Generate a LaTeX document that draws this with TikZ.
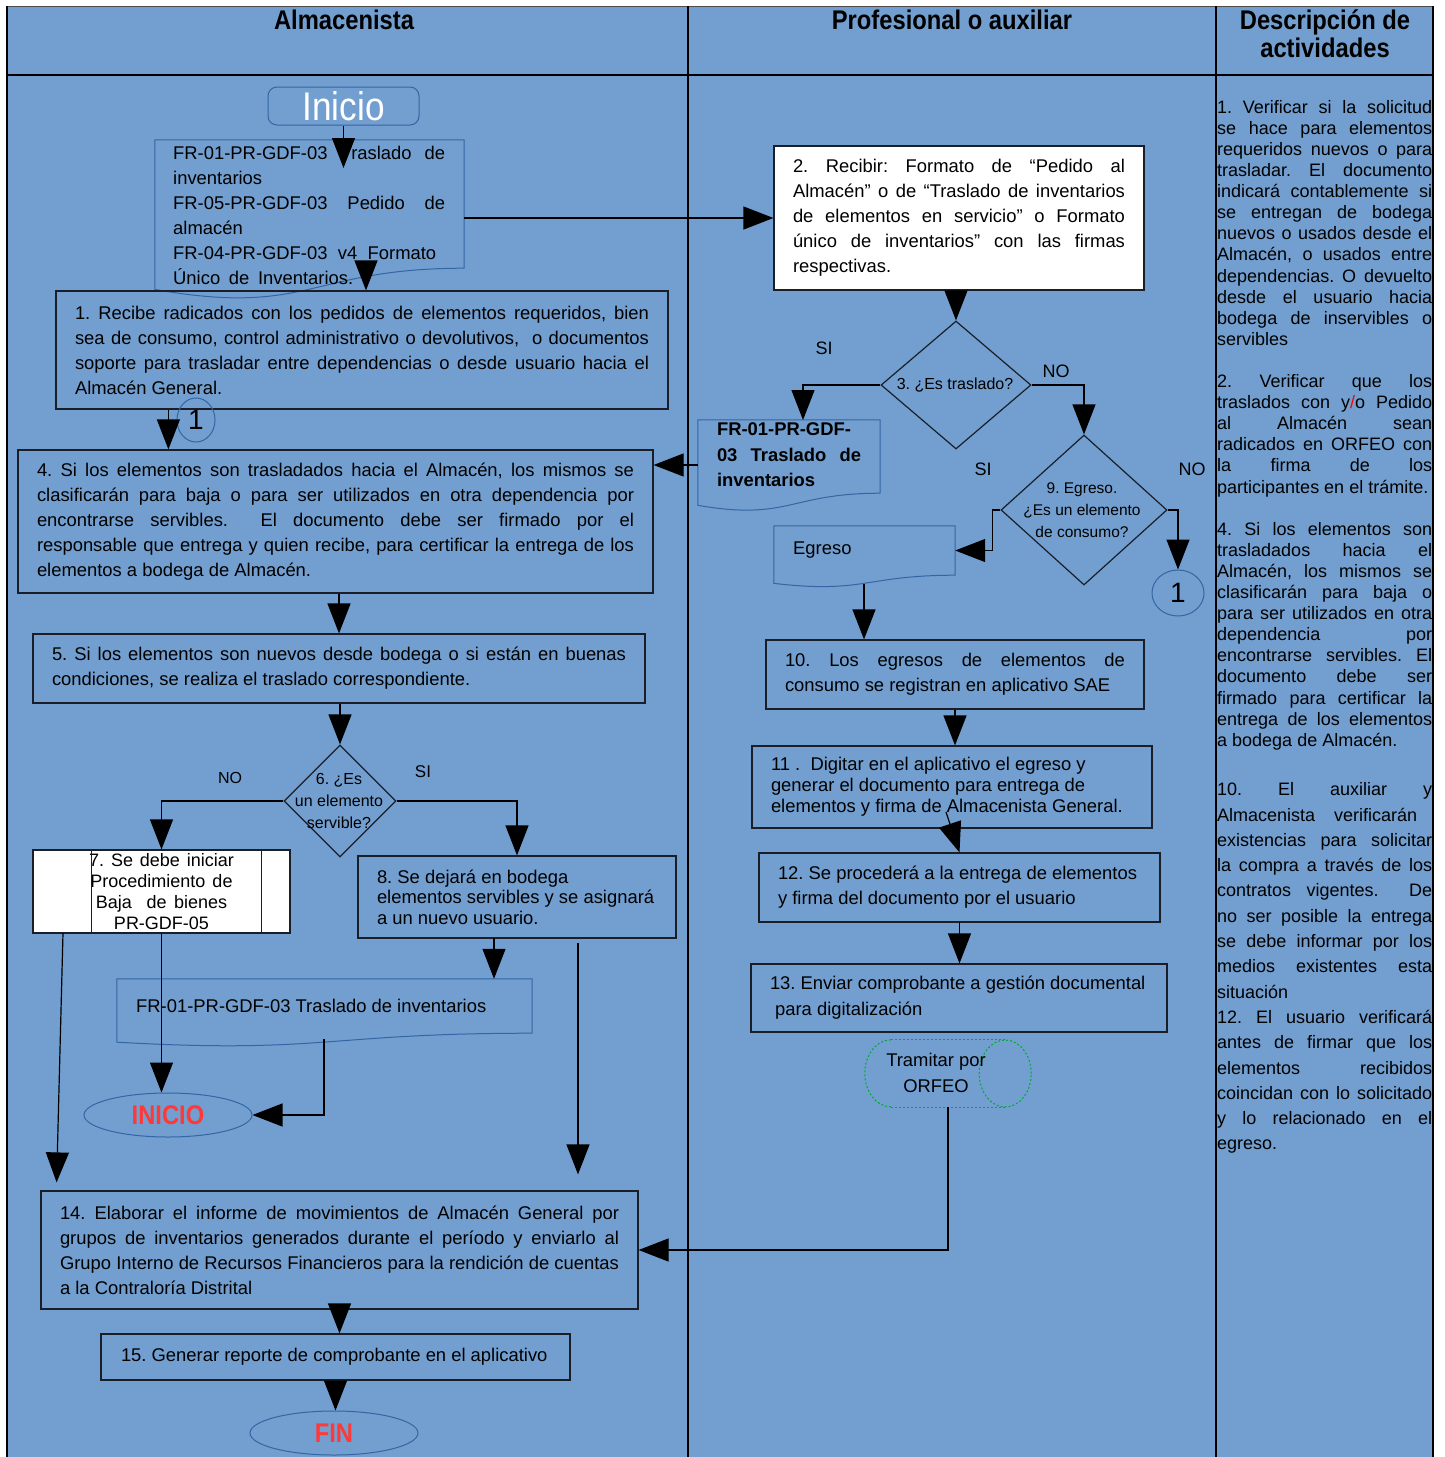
\documentclass[tikz,border=0pt]{standalone}
\usepackage{fontspec}
\setmainfont{Liberation Sans}
\newfontfamily\condf[FakeStretch=0.88]{Liberation Sans}
\usetikzlibrary{arrows.meta,shapes.geometric,calc}
\definecolor{bgc}{RGB}{114,159,207}
\definecolor{docc}{RGB}{52,101,164}
\definecolor{boxc}{RGB}{25,30,40}
\definecolor{grn}{RGB}{0,169,51}
\definecolor{redc}{RGB}{255,56,56}
\newcommand\fs[2]{\fontsize{#1}{#2}\selectfont}
\newcommand\nsp{\spaceskip=0pt\xspaceskip=0pt\hyphenpenalty=10000\exhyphenpenalty=10000\relax}
\newcommand\J[2]{\makebox[#1pt][s]{\nsp #2}}
\newcommand\docpath[1]{\draw[docl] (#1.north west) -- (#1.north east) -- (#1.south east) .. controls (#1.south) and ($(#1.north)!1.380!(#1.south)$) .. ($(#1.north west)!1.165!(#1.south west)$) -- cycle;}
\tikzset{
 tabl/.style={draw=black, line width=1.2pt},
 box/.style={draw=boxc, line width=1.2pt, rectangle, inner sep=0pt, align=left, font=\fs{18.4}{25}, execute at begin node={\nsp}},
 docn/.style={rectangle, inner sep=0pt},
 docl/.style={draw=docc, line width=1pt},
 txt/.style={inner sep=0pt, font=\fs{18.4}{25}, execute at begin node={\nsp}},
 hdr/.style={inner sep=0pt, font=\condf\bfseries\fs{27}{28}},
 dia/.style={diamond, draw=boxc, line width=1.2pt, inner sep=0pt},
 ell/.style={ellipse, draw=docc, line width=1pt, inner sep=0pt},
 lbl/.style={inner sep=0pt, font=\fs{18}{18}},
 arr/.style={draw=black, line width=1.2pt, -{Triangle[length=30pt,width=23pt]}},
 grnd/.style={draw=grn, line width=1pt, dash pattern=on 2pt off 2pt},
}
\begin{document}
\frenchspacing
\begin{tikzpicture}[x=1pt,y=-1pt]
\useasboundingbox (0,0) rectangle (1444,1457);
\fill[white] (0,0) rectangle (1444,1457);
\fill[bgc] (6,6) rectangle (1434,1457);
\draw[tabl, draw=black!70, line width=1pt] (6,6) -- (1434,6);
\draw[tabl] (6,75) -- (1434,75);
\draw[tabl] (7,6) -- (7,1457);
\draw[tabl] (688,6) -- (688,1457);
\draw[tabl] (1216,6) -- (1216,1457);
\draw[tabl] (1433,6) -- (1433,1457);

% headers
\node[hdr] (hA) at (344,20) {Almacenista};
\node[hdr] (hB) at (952,20) {Profesional o auxiliar};
\node[hdr, align=center] (hC) at (1325,34) {Descripción de\\actividades};

% ---------- lane 1 ----------
\node[draw=docc, line width=1pt, rounded corners=9pt, minimum width=151pt, minimum height=38pt, inner sep=0pt, text=white, font=\condf\fs{40}{40}] (ini) at (343.5,106) {Inicio};

\node[docn, minimum width=309pt, minimum height=128pt] (dA) at (309.5,204) {};
\docpath{dA}
\node[txt, anchor=north west, text width=272pt, align=left] (dAt) at (173,146) {\J{272}{FR-01-PR-GDF-03\ \ Traslado\ \ de}\\inventarios\\\J{272}{FR-05-PR-GDF-03 Pedido de}\\almacén\\\J{263}{FR-04-PR-GDF-03 v4 Formato}\\\J{180}{Único de Inventarios.}};

\node[box, minimum width=612pt, minimum height=118pt, text width=574pt] (b1) at (362,350) {\J{574}{1. Recibe radicados con los pedidos de elementos requeridos, bien}\\\J{574}{sea de consumo, control administrativo o devolutivos,\ \ o documentos}\\\J{574}{soporte para trasladar entre dependencias o desde usuario hacia el}\\Almacén General.};

\node[ell, minimum width=38pt, minimum height=44pt, font=\fs{28}{28}] (c1L) at (196,420) {1};

\node[box, minimum width=635pt, minimum height=143pt, text width=597pt] (b4) at (335.5,521.5) {\J{597}{4. Si los elementos son trasladados hacia el Almacén, los mismos se}\\\J{597}{clasificarán para baja o para ser utilizados en otra dependencia por}\\\J{597}{encontrarse servibles.\ \ El documento debe ser firmado por el}\\\J{597}{responsable que entrega y quien recibe, para certificar la entrega de los}\\elementos a bodega de Almacén.};

\node[box, minimum width=612pt, minimum height=69pt, text width=574pt] (b5) at (339,668.5) {\J{574}{5. Si los elementos son nuevos desde bodega o si están en buenas}\\condiciones, se realiza el traslado correspondiente.};

\node[dia, minimum width=112pt, minimum height=112pt] (d6) at (340,801) {};
\node[txt, align=center, font=\fs{16}{22}] (d6t) at (339,801) {6. ¿Es\\un elemento\\servible?};
\node[lbl, font=\fs{16}{16}] (noA) at (230,778) {NO};
\node[lbl, font=\fs{17}{17}] (siA) at (423,772) {SI};

\node[box, fill=white, minimum width=257pt, minimum height=83pt, text width=200pt, align=center, font=\fs{18}{21}] (b7) at (161.5,891.5) {7. Se debe iniciar\\Procedimiento de\\Baja\ \ de bienes\\PR-GDF-05};
\draw[boxc, line width=1.2pt] ($(b7.north west)+(59,0)$) -- ($(b7.south west)+(59,0)$);
\draw[boxc, line width=1.2pt] ($(b7.north east)+(-29,0)$) -- ($(b7.south east)+(-29,0)$);

\node[box, minimum width=318pt, minimum height=82pt, text width=280pt, font=\fs{18.4}{20.5}] (b8) at (517,897) {8. Se dejará en bodega\\elementos servibles y se asignará\\a un nuevo usuario.};

\node[docn, minimum width=415pt, minimum height=54pt] (dD) at (324.5,1006) {};
\docpath{dD}
\node[txt, anchor=west] (dDt) at (136,1006) {FR-01-PR-GDF-03 Traslado de inventarios};

\node[ell, minimum width=168pt, minimum height=44pt, text=redc, font=\condf\bfseries\fs{27}{27}] (inicio) at (168,1115) {INICIO};

\node[box, minimum width=597pt, minimum height=118pt, text width=559pt] (b14) at (339.5,1250) {\J{559}{14. Elaborar el informe de movimientos de Almacén General por}\\\J{559}{grupos de inventarios generados durante el período y enviarlo al}\\\J{559}{Grupo Interno de Recursos Financieros para la rendición de cuentas}\\a la Contraloría Distrital};

\node[box, minimum width=469pt, minimum height=46pt, text width=429pt] (b15) at (335.5,1357) {15. Generar reporte de comprobante en el aplicativo};

\node[ell, minimum width=168pt, minimum height=44pt, text=redc, font=\condf\bfseries\fs{27}{27}] (fin) at (334,1433) {FIN};

% ---------- lane 2 ----------
\node[box, fill=white, minimum width=370pt, minimum height=144pt, text width=332pt] (b2) at (959,218) {\J{332}{2. Recibir: Formato de “Pedido al}\\\J{332}{Almacén” o de “Traslado de inventarios}\\\J{332}{de elementos en servicio” o Formato}\\\J{332}{único de inventarios” con las firmas}\\respectivas.};

\node[dia, minimum width=150pt, minimum height=128pt] (d3) at (956,385) {};
\node[txt, font=\fs{16}{22}] (d3t) at (955,385) {3. ¿Es traslado?};
\node[lbl] (siB) at (824,348) {SI};
\node[lbl] (noB) at (1056,371) {NO};

\node[docn, minimum width=182pt, minimum height=73pt] (dB) at (789,456.5) {};
\docpath{dB}
\node[txt, text width=144pt, align=left, font=\bfseries\fs{18.4}{25.5}] (dBt) at (789,455) {FR-01-PR-GDF-\\\J{144}{03 Traslado de}\\inventarios};

\node[dia, minimum width=166pt, minimum height=150pt] (d9) at (1084,510) {};
\node[txt, align=center, font=\fs{15.5}{22}] (d9t) at (1082,510) {9. Egreso.\\¿Es un elemento\\de consumo?};
\node[lbl] (siC) at (983,469) {SI};
\node[lbl] (noC) at (1192,469) {NO};

\node[docn, minimum width=181pt, minimum height=49pt] (dC) at (864.5,550.5) {};
\docpath{dC}
\node[txt, anchor=west] (dCt) at (793,550) {Egreso};

\node[ell, minimum width=52pt, minimum height=46pt, font=\fs{28}{28}] (c1R) at (1178,593) {1};

\node[box, minimum width=378pt, minimum height=69pt, text width=340pt] (b10) at (955,674.5) {\J{340}{10. Los egresos de elementos de}\\consumo se registran en aplicativo SAE};

\node[box, minimum width=400pt, minimum height=82pt, text width=362pt, font=\fs{18.4}{21}] (b11) at (952,787) {11 .\ \ Digitar en el aplicativo el egreso y\\generar el documento para entrega de\\elementos y firma de Almacenista General.};

\node[box, minimum width=401pt, minimum height=69pt, text width=363pt] (b12) at (959.5,887.5) {12. Se procederá a la entrega de elementos\\y firma del documento por el usuario};

\node[box, minimum width=416pt, minimum height=68pt, text width=378pt, font=\fs{18.4}{26}] (b13) at (959,998) {13. Enviar comprobante a gestión documental\\\ para digitalización};

\node[docn, minimum width=166pt, minimum height=67pt] (or) at (948,1073.5) {};
\draw[grnd] ($(or.north west)+(26,0)$) -- ($(or.north east)+(-26,0)$);
\draw[grnd] ($(or.south west)+(26,0)$) -- ($(or.south east)+(-26,0)$);
\draw[grnd] ($(or.east)+(-26,0)$) ellipse [x radius=26pt, y radius=33.5pt];
\draw[grnd] ($(or.north west)+(26,0)$) arc [start angle=90, end angle=270, x radius=26pt, y radius=33.5pt];
\node[txt, align=center, font=\fs{18.4}{26}] (ort) at (936,1073) {Tramitar por\\ORFEO};

% ---------- lane 3 ----------
\node[txt, anchor=north west, text width=215pt, align=left, font=\fs{18}{21.1}] (descA) at (1217,100) {\J{215}{1. Verificar si la solicitud}\\
\J{215}{se hace para elementos}\\
\J{215}{requeridos nuevos o para}\\
\J{215}{trasladar. El documento}\\
\J{215}{indicará contablemente si}\\
\J{215}{se entregan de bodega}\\
\J{215}{nuevos o usados desde el}\\
\J{215}{Almacén, o usados entre}\\
\J{215}{dependencias. O devuelto}\\
\J{215}{desde el usuario hacia}\\
\J{215}{bodega de inservibles o}\\
servibles\\[21.1pt]
\J{215}{2. Verificar que los}\\
\J{215}{traslados con y{\color{red}/}o Pedido}\\
\J{215}{al Almacén sean}\\
\J{215}{radicados en ORFEO con}\\
\J{215}{la firma de los}\\
participantes en el trámite.\\[21.1pt]
\J{215}{4. Si los elementos son}\\
\J{215}{trasladados hacia el}\\
\J{215}{Almacén, los mismos se}\\
\J{215}{clasificarán para baja o}\\
\J{215}{para ser utilizados en otra}\\
\J{215}{dependencia por}\\
\J{215}{encontrarse servibles. El}\\
\J{215}{documento debe ser}\\
\J{215}{firmado para certificar la}\\
\J{215}{entrega de los elementos}\\
a bodega de Almacén.};

\node[txt, anchor=north west, text width=215pt, align=left, font=\fs{18}{25.3}] (descB) at (1217,782.5) {\J{215}{10. El auxiliar y}\\
\J{200}{Almacenista verificarán}\\
\J{215}{existencias para solicitar}\\
\J{215}{la compra a través de los}\\
\J{215}{contratos vigentes.\ \ De}\\
\J{215}{no ser posible la entrega}\\
\J{215}{se debe informar por los}\\
\J{215}{medios existentes esta}\\
situación\\
\J{215}{12. El usuario verificará}\\
\J{215}{antes de firmar que los}\\
\J{215}{elementos recibidos}\\
\J{215}{coincidan con lo solicitado}\\
\J{215}{y lo relacionado en el}\\
egreso.};

% ---------- connectors ----------
\coordinate (iniT) at (343.5,168);
\draw[arr] (ini.south) -- (iniT);
\coordinate (dAo) at (366,262);
\draw[arr] (dAo) -- (dAo |- b1.north);
\draw[arr] (dA.east |- b2.west) -- (b2.west);
\draw[arr] (d3.north |- b2.south) -- (d3.north);
\coordinate (dBn) at (803,420);
\draw[arr] (d3.west) -| (dBn);
\draw[arr] (d3.east) -| (d9.north);
\coordinate (dBw) at (698,465);
\draw[arr] (dBw) -- (dBw -| b4.east);
\draw[arr] (d9.west) -- ++(-8,0) |- (dC.east);
\draw[arr] (d9.east) -| (c1R.north);
\coordinate (dCs) at (864,584);
\draw[arr] (dCs) -- (dCs |- b10.north);
\draw[arr] (b10.south) -- (b10.south |- b11.north);
\coordinate (b11o) at (946,812);
\draw[arr] (b11o) -- (b12.north);
\draw[arr] (b12.south) -- (b12.south |- b13.north);
\draw[arr] (or.south) |- (b14.east);
\draw[arr] ($(b1.south west)+(113,0)$) -- ($(b4.north west)+(151,0)$);
\draw[arr] (b5.north |- b4.south) -- (b5.north);
\draw[arr] (d6.north |- b5.south) -- (d6.north);
\draw[arr] (d6.west) -| (b7.north);
\draw[arr] (d6.east) -| (b8.north);
\coordinate (b8o) at (494,938);
\draw[arr] (b8o) -- (b8o |- dD.north);
\draw[arr] (b7.south) -- (b7.south |- inicio.north);
\coordinate (dDs) at (324,1039);
\draw[arr] (dDs) |- (inicio.east);
\coordinate (b7o) at (63,933);
\draw[arr, shorten >=8pt] (b7o) -- ($(b14.north west)+(16,0)$);
\coordinate (b8p) at (578,943);
\draw[arr, shorten >=16pt] (b8p) -- (b8p |- b14.north);
\draw[arr] (b14.south) -- (b14.south |- b15.north);
\draw[arr] (b15.south) -- (b15.south |- fin.north);
\end{tikzpicture}
\end{document}
